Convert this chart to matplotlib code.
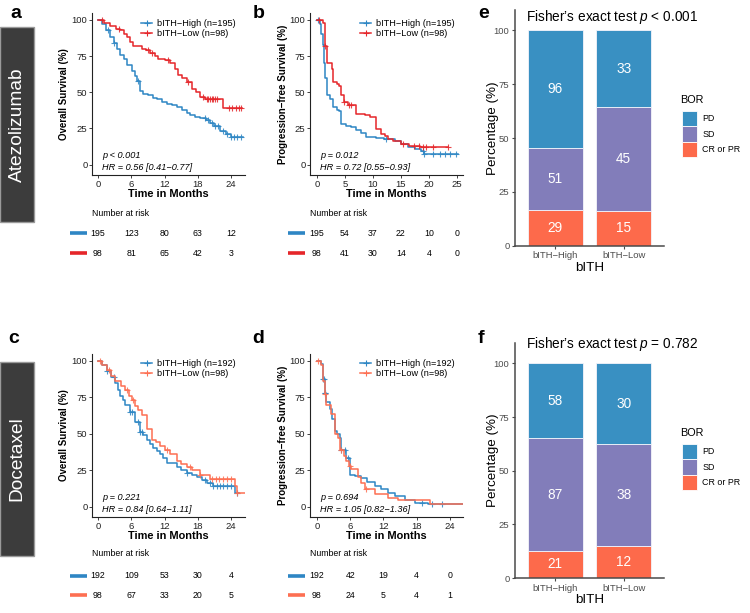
import numpy as np
import matplotlib.pyplot as plt
import matplotlib.transforms as mtransforms
from matplotlib.patches import Rectangle, Patch
from matplotlib.lines import Line2D

plt.rcParams['font.family'] = ['Liberation Sans', 'DejaVu Sans']
plt.rcParams['mathtext.fontset'] = 'custom'
plt.rcParams['mathtext.rm'] = 'Liberation Sans'
plt.rcParams['mathtext.it'] = 'Liberation Sans:italic'

# ---------------- data ----------------
# panel a: Atezolizumab, overall survival
a_high_t = [0, 0.8, 1.5, 2.2, 2.8, 3.4, 4.0, 4.6, 5.3, 6.1, 6.6, 7.0, 7.6, 8.2, 9.1, 10.0,
            10.6, 11.5, 12.4, 13.3, 14.2, 15.2, 16.0, 16.6, 17.5, 18.4, 19.5, 20.2, 21.0,
            22.0, 23.0, 23.9]
a_high_s = [100, 97, 93, 88, 84, 80, 76, 73, 69, 65, 61, 58, 51, 49, 48, 46,
            45, 43, 42, 41, 40, 38, 36, 34, 33, 32, 31, 29, 27,
            23.5, 21, 19]
a_high_end = 26.2
a_high_cens = [1.8, 2.8, 7.3, 19.3, 19.9, 20.5, 21.1, 21.7, 22.6, 23.3, 23.9, 24.5, 25.1, 25.7]
a_low_t = [0, 1.0, 2.2, 3.3, 4.0, 4.7, 5.2, 5.8, 6.4, 7.9, 8.6, 9.4, 10.3, 10.9, 12.0, 13.0,
           13.8, 14.5, 15.2, 16.0, 16.9, 17.6, 18.4, 19.3, 22.6]
a_low_s = [100, 98, 96, 94, 93, 90, 88, 85, 82, 80, 79, 77, 75, 73, 72, 70,
           66, 62, 60, 57, 52, 50, 47, 45, 39]
a_low_end = 26.0
a_low_cens = [0.7, 3.7, 9.1, 9.7, 12.7, 16.3, 19.0, 19.6, 19.9, 20.2, 20.5, 20.8, 21.1, 21.4,
              23.6, 24.2, 24.8, 25.4, 25.7]
a_risk_t = [0, 6, 12, 18, 24]
a_risk_high = [195, 123, 80, 63, 12]
a_risk_low = [98, 81, 65, 42, 3]

# panel b: Atezolizumab, progression-free survival
b_high_t = [0, 0.5, 0.8, 1.1, 1.3, 1.4, 1.7, 2.3, 2.9, 3.5, 4.0, 4.3, 5.2, 6.1, 7.0, 7.9,
            8.8, 10.5, 12.0, 13.9, 15.0, 16.3, 17.5, 18.6, 19.2]
b_high_s = [100, 97, 90, 83, 70, 60, 48, 45, 40, 38, 37, 28, 27, 26, 24, 22,
            19, 18.5, 18, 16.5, 14, 12, 11, 9.7, 7.4]
b_high_end = 25.2
b_high_cens = [0.2, 12.4, 18.9, 19.2, 20.7, 21.9, 22.8, 23.7, 24.9]
b_low_t = [0, 1.1, 1.4, 1.7, 2.6, 2.9, 3.5, 4.0, 4.3, 4.9, 5.5, 7.0, 8.5, 9.4, 10.6, 11.5,
           12.1, 12.7, 13.5, 15.1, 16.5, 18.5]
b_low_s = [100, 98, 82, 70, 66, 57, 56, 54.5, 48, 43, 41, 35, 34, 32.6, 24.6, 21,
           19.5, 17.7, 16, 14, 13, 12.4]
b_low_end = 23.4
b_low_cens = [0.3, 1.4, 4.9, 5.8, 6.1, 15.4, 17.4, 18.3, 18.9, 19.5, 20.7, 23.4]
b_risk_t = [0, 5, 10, 15, 20, 25]
b_risk_high = [195, 54, 37, 22, 10, 0]
b_risk_low = [98, 41, 30, 14, 4, 0]

# panel c: Docetaxel, overall survival
c_high_t = [0, 0.8, 1.6, 2.3, 3.1, 3.6, 4.0, 4.5, 4.9, 5.8, 6.7, 7.6, 8.2, 8.8, 9.4, 10.0,
            10.6, 11.2, 11.8, 12.4, 14.2, 15.0, 16.0, 17.0, 17.8, 18.8, 19.6, 20.8, 24.7]
c_high_s = [100, 97, 93, 89, 85, 80, 76, 73, 70, 65, 58, 51, 49, 46, 43, 40,
            38, 36, 33, 30, 27, 25, 23, 21.5, 20, 18, 16, 14, 9.4]
c_high_end = 25.4
c_high_cens = [1.6, 2.8, 5.8, 6.1, 7.3, 7.6, 7.9, 16.0, 19.3, 20.2, 20.8, 21.4, 22.0, 22.6,
               23.2, 23.9, 25.1]
c_low_t = [0, 0.8, 1.6, 2.3, 3.1, 4.2, 4.8, 5.5, 6.1, 6.7, 7.3, 7.9, 8.8, 9.7, 10.4, 11.2,
           12.0, 13.0, 14.2, 15.0, 16.0, 17.0, 18.4, 20.2, 24.7, 25.1]
c_low_s = [100, 97, 94, 90, 86, 83, 80, 76, 73, 69, 66, 63, 53, 46, 44, 41.6,
           39, 36, 31, 29, 27, 25, 22, 18.6, 14, 9.4]
c_low_end = 26.6
c_low_cens = [0.4, 1.9, 5.2, 6.4, 12.4, 16.6, 18.4, 20.5, 21.2, 21.9, 22.6, 23.3, 23.9, 25.1]
c_risk_t = [0, 6, 12, 18, 24]
c_risk_high = [192, 109, 53, 30, 4]
c_risk_low = [98, 67, 33, 20, 5]

# panel d: Docetaxel, progression-free survival
d_high_t = [0, 0.8, 1.1, 1.4, 1.7, 2.3, 2.7, 3.2, 3.6, 4.1, 4.4, 5.3, 5.9, 6.8, 8.0, 9.0,
            10.4, 11.5, 12.8, 14.0, 15.8, 17.7, 20.0]
d_high_s = [100, 98, 87.6, 78, 71.5, 67, 60, 52, 50, 47, 39, 33.5, 22, 21, 19.8, 17,
            14, 12, 9.4, 7, 4.8, 2.5, 1.4]
d_high_end = 26.7
d_high_cens = [1.1, 1.2, 1.4, 1.5, 4.4, 5.0, 5.6, 18.9, 20.7, 22.5]
d_low_t = [0, 0.8, 1.1, 1.4, 1.7, 2.6, 3.2, 3.8, 4.1, 4.8, 5.3, 5.8, 6.2, 7.4, 8.0, 8.6,
           10.4, 12.8, 14.6, 20.4]
d_low_s = [100, 97, 86, 77, 70, 63.5, 50, 47, 39, 35, 31, 28, 25.5, 20, 16, 11.7,
           8.3, 6, 4.8, 1.4]
d_low_end = 26.7
d_low_cens = [0.2, 1.4, 4.4, 5.9, 8.9]
d_risk_t = [0, 6, 12, 18, 24]
d_risk_high = [192, 42, 19, 4, 0]
d_risk_low = [98, 24, 5, 4, 1]

# panels e/f: best overall response counts (CR or PR, SD, PD)
bor_labels = ['CR or PR', 'SD', 'PD']
groups = ['bITH\u2212High', 'bITH\u2212Low']
e_high = [29, 51, 96]
e_low = [15, 45, 33]
f_high = [21, 87, 58]
f_low = [12, 38, 30]

# colours
BLUE = '#2E86C4'
RED = '#E5262A'
ORANGE = '#FD6F52'
BOR_COLORS = ['#FD6A4B', '#827DBA', '#3990C2']

W, H = 750, 613
fig = plt.figure(figsize=(7.5, 6.13), dpi=100)


def box(l, t, r, b):
    return [l / W, 1 - b / H, (r - l) / W, (b - t) / H]


def fx(x):
    return x / W


def fy(y):
    return 1 - y / H


def km_curve(ax, t, s, t_end, cens, color):
    tt = np.append(t, t_end)
    ss = np.append(s, s[-1])
    ax.step(tt, ss, where='post', color=color, lw=1.1)
    idx = np.searchsorted(t, cens, side='right') - 1
    ax.plot(cens, np.asarray(s)[idx], '+', color=color, ms=4.5, mew=0.8, alpha=0.85)


def km_panel(px, xlim, xticks, ylabel, curves, labels, colors, ptxt, hrtxt, risk, leg_xy,
             ylab_x):
    l, t, r, b = px
    ax = fig.add_axes(box(l, t, r, b))
    for (ct, cs, ce, cc), col in zip(curves, colors):
        km_curve(ax, ct, cs, ce, cc, col)
    ax.set_xlim(xlim)
    ax.set_ylim(-7.2, 104.8)
    for sp in ['top', 'right']:
        ax.spines[sp].set_visible(False)
    for sp in ['left', 'bottom']:
        ax.spines[sp].set_linewidth(0.8)
        ax.spines[sp].set_color('#222222')
    ax.set_xticks(xticks)
    ax.set_yticks([0, 25, 50, 75, 100])
    ax.tick_params(labelsize=6.8, length=2.5, width=0.6, pad=0.8, colors='#222222')
    ax.set_xlabel('Time in Months', fontsize=7.9, fontweight='bold')
    ax.xaxis.set_label_coords(0.5, -0.088)
    ax.set_ylabel(ylabel, fontsize=7, fontweight='bold')
    ax.yaxis.set_label_coords(ylab_x, 0.5)
    handles = [Line2D([], [], color=c, lw=1.1, marker='+', ms=4.5, mew=0.8) for c in colors]
    ax.legend(handles, labels, loc='upper left', bbox_to_anchor=(fx(leg_xy[0]), fy(leg_xy[1])),
              bbox_transform=fig.transFigure, frameon=False, fontsize=6.6, handlelength=1.2,
              handletextpad=0.5, labelspacing=0.12, borderpad=0, borderaxespad=0)
    ax.text(fx(l + 10), fy(b - 19), ptxt, transform=fig.transFigure, fontsize=6.6,
            style='italic', va='center')
    ax.text(fx(l + 10), fy(b - 8), hrtxt, transform=fig.transFigure, fontsize=6.6,
            style='italic', va='center')
    # risk table
    rt, rhigh, rlow, y_title, y_rows = risk
    tr = mtransforms.blended_transform_factory(ax.transData, fig.transFigure)
    fig.text(fx(l), fy(y_title), 'Number at risk', fontsize=6.3, va='center')
    for vals, col, yr in zip([rhigh, rlow], colors, y_rows):
        yy = fy(yr)
        for tv, n in zip(rt, vals):
            ax.text(tv, yy, str(n), transform=tr, fontsize=6.3, ha='center', va='center',
                    clip_on=False)
        fig.add_artist(Line2D([fx(l - 22), fx(l - 5)], [yy, yy], transform=fig.transFigure,
                              color=col, lw=2.6, solid_capstyle='butt'))
    return ax


def bor_panel(px, high, low, title, title_y):
    l, t, r, b = px
    ax = fig.add_axes(box(l, t, r, b))
    counts = np.array([high, low], dtype=float).T  # rows: CR/PR, SD, PD
    pct = counts / counts.sum(axis=0) * 100
    x = np.arange(len(groups))
    bottom = np.zeros(len(groups))
    for k in range(len(bor_labels)):
        ax.bar(x, pct[k], 0.8, bottom=bottom, color=BOR_COLORS[k], edgecolor='#f4f4fb',
               linewidth=0.6)
        for xi in x:
            ax.text(xi, bottom[xi] + pct[k][xi] / 2, str(int(counts[k][xi])), color='white',
                    ha='center', va='center', fontsize=9.8)
        bottom += pct[k]
    ax.set_xlim(-0.59, 1.59)
    ax.set_ylim(0, 109.5)
    for sp in ['top', 'right']:
        ax.spines[sp].set_visible(False)
    for sp in ['left', 'bottom']:
        ax.spines[sp].set_linewidth(1.1)
        ax.spines[sp].set_color('#4a4a4a')
    ax.set_xticks(x)
    ax.set_xticklabels(groups)
    ax.set_yticks([0, 25, 50, 75, 100])
    ax.tick_params(labelsize=6.8, length=2.5, width=0.8, pad=1.5, colors='#4a4a4a',
                   labelcolor='#4d4d4d')
    ax.set_ylabel('Percentage (%)', fontsize=9.6)
    ax.yaxis.set_label_coords(-0.105, 0.5)
    ax.set_xlabel('bITH', fontsize=9.6)
    ax.xaxis.set_label_coords(0.5, -0.068)
    fig.text(fx(612), fy(title_y), title, fontsize=9.8, ha='center', va='center')
    # legend: title text, then the three colour keys
    fig.text(fx(680), fy(t + 90), 'BOR', fontsize=7.8, va='center')
    handles = [Patch(facecolor=BOR_COLORS[k], edgecolor='white', linewidth=0.6)
               for k in [2, 1, 0]]
    ax.legend(handles, [bor_labels[k] for k in [2, 1, 0]], loc='upper left',
              bbox_to_anchor=(fx(682), fy(t + 101)), bbox_transform=fig.transFigure,
              frameon=False, fontsize=6.4, handlelength=1.7,
              handleheight=2.3, labelspacing=0, handletextpad=0.6, borderpad=0,
              borderaxespad=0)
    return ax


# side labels
for (t, b, name) in [(27, 222, 'Atezolizumab'), (362, 556, 'Docetaxel')]:
    fig.add_artist(Rectangle((0, fy(b)), fx(34), (b - t) / H, transform=fig.transFigure,
                             facecolor='#3c3c3c', edgecolor='#9a9a9a', linewidth=1.0))
    fig.text(fx(17), fy((t + b) / 2), name, rotation=90, color='white', fontsize=13.8,
             ha='center', va='center')

# panel letters
for lab, x, y in [('a', 10, 14), ('b', 253, 14), ('e', 478, 14),
                  ('c', 8, 339), ('d', 252, 339), ('f', 478, 339)]:
    fig.text(fx(x), fy(y), lab, fontsize=14, fontweight='bold', va='center')

a_lab = ['bITH\u2212High (n=195)', 'bITH\u2212Low (n=98)']
c_lab = ['bITH\u2212High (n=192)', 'bITH\u2212Low (n=98)']

km_panel((92, 13, 245, 175), (-1.08, 26.5), [0, 6, 12, 18, 24], 'Overall Survival (%)',
         [(a_high_t, a_high_s, a_high_end, a_high_cens),
          (a_low_t, a_low_s, a_low_end, a_low_cens)],
         a_lab, [BLUE, RED], 'p < 0.001', 'HR = 0.56 [0.41\u22120.77]',
         (a_risk_t, a_risk_high, a_risk_low, 213, (233, 253)), (141, 19), -0.15)

km_panel((310, 13, 463, 175), (-1.25, 26.1), [0, 5, 10, 15, 20, 25],
         'Progression\u2212free Survival (%)',
         [(b_high_t, b_high_s, b_high_end, b_high_cens),
          (b_low_t, b_low_s, b_low_end, b_low_cens)],
         a_lab, [BLUE, RED], 'p = 0.012', 'HR = 0.72 [0.55\u22120.93]',
         (b_risk_t, b_risk_high, b_risk_low, 213, (233, 253)), (360, 19), -0.145)

km_panel((92, 354, 245, 517), (-1.08, 26.5), [0, 6, 12, 18, 24], 'Overall Survival (%)',
         [(c_high_t, c_high_s, c_high_end, c_high_cens),
          (c_low_t, c_low_s, c_low_end, c_low_cens)],
         c_lab, [BLUE, ORANGE], 'p = 0.221', 'HR = 0.84 [0.64\u22121.11]',
         (c_risk_t, c_risk_high, c_risk_low, 554, (576, 595)), (141, 359), -0.15)

km_panel((310, 354, 463, 517), (-1.26, 26.35), [0, 6, 12, 18, 24],
         'Progression\u2212free Survival (%)',
         [(d_high_t, d_high_s, d_high_end, d_high_cens),
          (d_low_t, d_low_s, d_low_end, d_low_cens)],
         c_lab, [BLUE, ORANGE], 'p = 0.694', 'HR = 1.05 [0.82\u22121.36]',
         (d_risk_t, d_risk_high, d_risk_low, 554, (576, 595)), (360, 359), -0.145)

bor_panel((515, 10, 664, 245.7), e_high, e_low,
          r'Fisher’s exact test $p$ < $\mathit{0.001}$', 17)
bor_panel((515, 343, 664, 578), f_high, f_low,
          r'Fisher’s exact test $p$ = $\mathit{0.782}$', 344)

fig.savefig('out.png', dpi=100)
